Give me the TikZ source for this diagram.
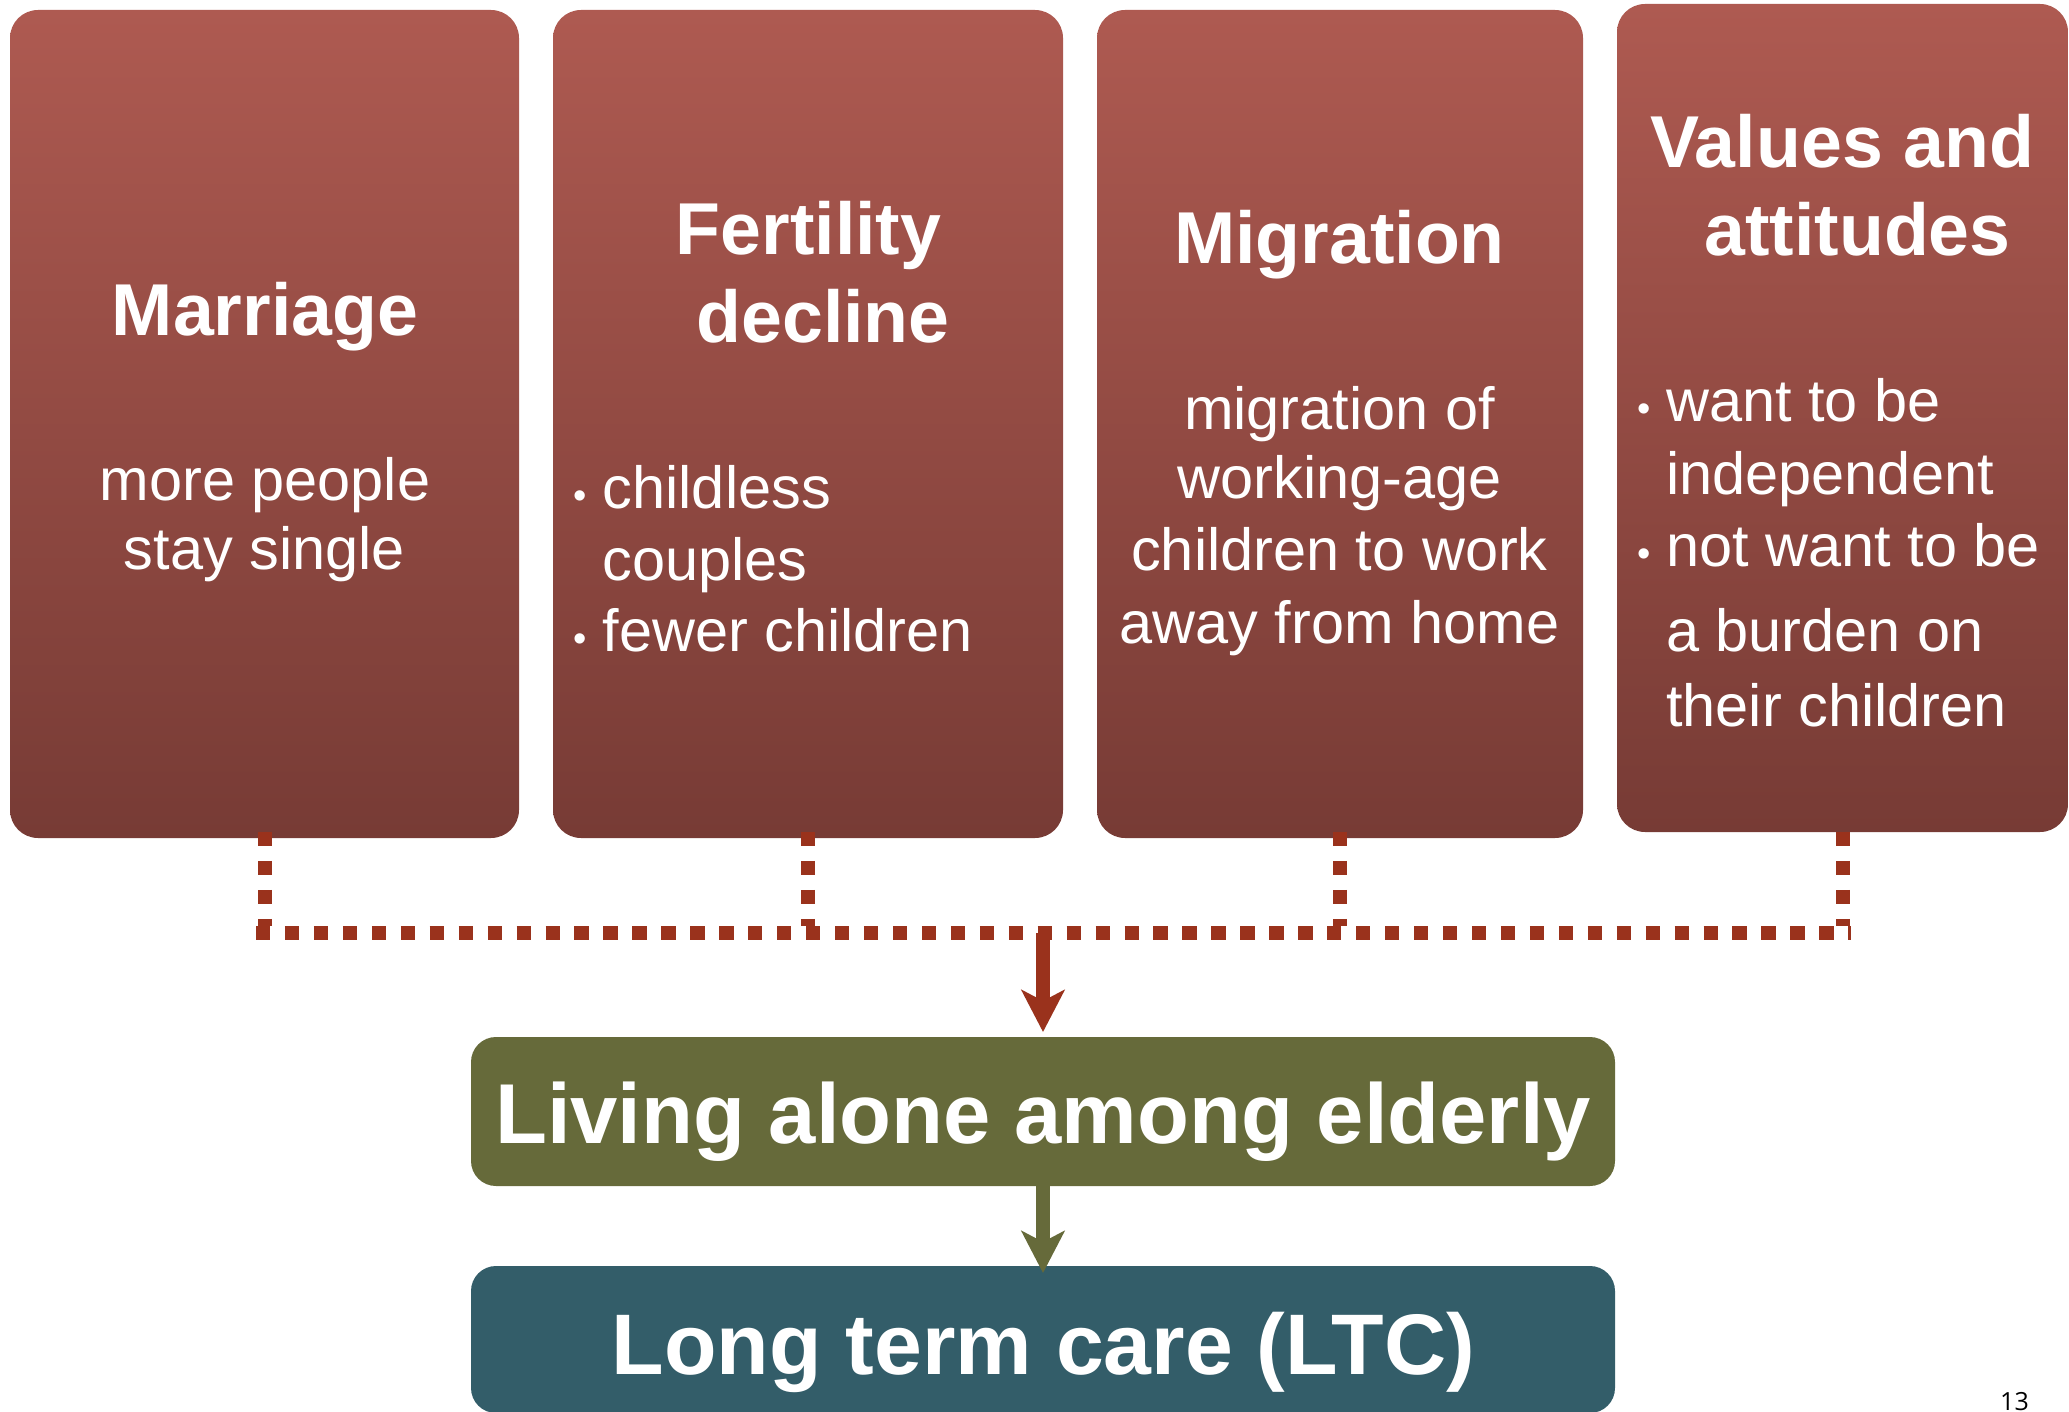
\documentclass[tikz,border=0pt]{standalone}
\usepackage{fontspec}
\setmainfont{Liberation Sans}
\newfontfamily\numfont{Open Sans}
\usetikzlibrary{arrows.meta}
\definecolor{boxtop}{RGB}{174,90,81}
\definecolor{boxbot}{RGB}{119,59,53}
\definecolor{livgreen}{RGB}{102,106,58}
\definecolor{ltcblue}{RGB}{51,93,105}
\definecolor{linered}{RGB}{154,50,28}
\begin{document}
\begin{tikzpicture}[x=1pt,y=-1pt,
  topbox/.style={rounded corners=28pt, top color=boxtop, bottom color=boxbot, draw=none, inner sep=0pt, outer sep=0pt, minimum height=828pt},
  botbox/.style={rounded corners=25pt, draw=none, inner sep=0pt, outer sep=0pt, minimum width=1144pt},
  ttl/.style={text=white, font=\bfseries\fontsize{73.5}{88}\selectfont, anchor=base, inner sep=0pt},
  body/.style={text=white, font=\fontsize{59.5}{72}\selectfont, anchor=base, inner sep=0pt},
  bodyl/.style={body, anchor=base west},
  bul/.style={text=white, font=\fontsize{38}{38}\selectfont, anchor=base, inner sep=0pt},
  big/.style={text=white, font=\bfseries\fontsize{85}{96}\selectfont, anchor=base, inner sep=0pt},
  dotline/.style={draw=linered, line width=14pt, dash pattern=on 14.3pt off 14.65pt},
  arr/.style={line width=14pt, -{Stealth[length=42pt, width=43pt, inset=11pt]}}
]
\useasboundingbox (0,0) rectangle (2069,1412);

% top boxes
\node[topbox, minimum width=509pt] (b1) at (264.5,424) {};
\node[topbox, minimum width=510pt] (b2) at (808,424) {};
\node[topbox, minimum width=486pt] (b3) at (1340,424) {};
\node[topbox, minimum width=451pt] (b4) at (1842.5,418) {};

% bottom boxes
\node[botbox, fill=livgreen, minimum height=149pt] (g) at (1043,1111.5) {};
\node[botbox, fill=ltcblue, minimum height=147pt] (lt) at (1043,1339.5) {};

% box 1
\node[ttl] (t1) at (265,336) {Marriage};
\node[body] (m1) at (265,500) {more people};
\node[body] (m2) at (264.5,569.5) {stay single};

% box 2
\node[ttl] (t2a) at (808.5,254.7) {Fertility};
\node[ttl] (t2b) at (823,343) {decline};
\node[bul] (f1b) at (580.5,508) {•};
\node[bodyl] (f1) at (602.5,508) {childless};
\node[bodyl] (f2) at (602.5,580) {couples};
\node[bul] (f3b) at (580.5,651) {•};
\node[bodyl] (f3) at (602.5,651) {fewer children};

% box 3
\node[ttl] (t3) at (1339.5,264) {Migration};
\node[body] (g1) at (1339.5,429) {migration of};
\node[body] (g2) at (1339.5,498.5) {working-age};
\node[body] (g3) at (1339.5,570.5) {children to work};
\node[body] (g4) at (1339.5,643.5) {away from home};

% box 4
\node[ttl] (t4a) at (1842,168) {Values and};
\node[ttl] (t4b) at (1857.5,256) {attitudes};
\node[bul] (v1b) at (1644,421) {•};
\node[bodyl] (v1) at (1666,421) {want to be};
\node[bodyl] (v2) at (1666,494) {independent};
\node[bul] (v3b) at (1644,566) {•};
\node[bodyl] (v3) at (1666,566) {not want to be};
\node[bodyl] (v4) at (1666,651) {a burden on};
\node[bodyl] (v5) at (1666,726) {their children};

% bottom texts
\node[big] (gt) at (1043,1143) {Living alone among elderly};
\node[big, font=\bfseries\fontsize{86}{96}\selectfont] (ltt) at (1043.5,1374) {Long term care (LTC)};

% page number
\node[anchor=base west, inner sep=0pt, font=\numfont\fontsize{25}{25}\selectfont] (pg) at (2000,1410) {13};

% connectors
\coordinate (h1) at (264.5,926);
\coordinate (h2) at (808,926);
\coordinate (h3) at (1340,926);
\coordinate (h4) at (1843,926);
\coordinate (hl) at (256,933);
\coordinate (hr) at (1851,933);
\coordinate (a1) at (1043,933);

\draw[dotline] ([yshift=6pt]b1.south) -- (h1);
\draw[dotline] ([yshift=6pt]b2.south) -- (h2);
\draw[dotline] ([yshift=6pt]b3.south) -- (h3);
\draw[dotline] ([xshift=0.5pt]b4.south) -- (h4);
\draw[dotline] (hl) -- (hr);

\draw[arr, draw=linered, fill=linered, shorten >=5pt] (a1) -- (g.north);
\draw[arr, draw=livgreen, fill=livgreen, shorten >=-7pt] ([yshift=6pt]g.south) -- (lt.north);
\end{tikzpicture}
\end{document}
